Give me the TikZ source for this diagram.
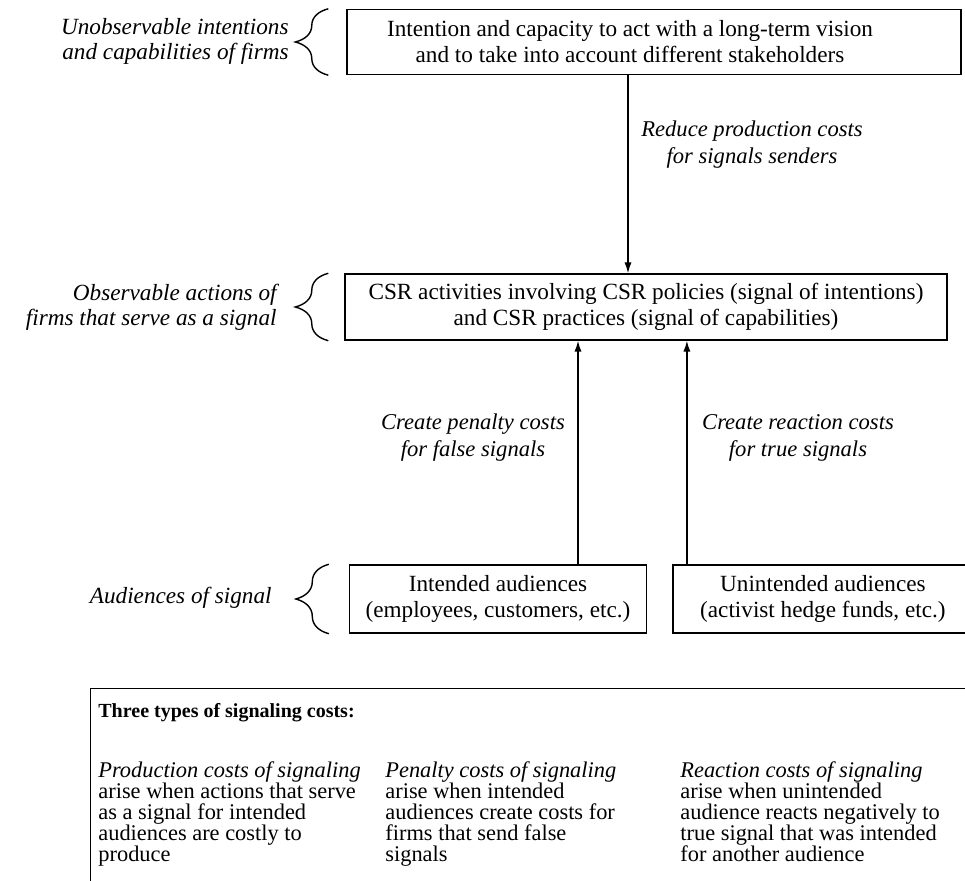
\documentclass[tikz,border=0pt]{standalone}
\usepackage{fontspec}
\setmainfont{Liberation Serif}
\usetikzlibrary{arrows.meta}
\usetikzlibrary{positioning}
\usetikzlibrary{decorations.pathreplacing}
\tikzset{>={Latex[length=5.5pt, width=3.6pt]}}

\begin{document}
\begin{tikzpicture}[x=0.5pt, y=-0.5pt]
                % frame of the page, the cost panel runs off the right and bottom
                \useasboundingbox (0,0) rectangle (965,881);
                \clip (0,0) rectangle (965,881);
                \tikzstyle{every node}=[font=\fontsize{11.6}{13}\selectfont]
                \tikzstyle{level box}=[draw=black, line width=0.7pt, align=center, inner sep=0pt]
                \tikzstyle{side label}=[align=right, anchor=east, inner sep=0pt, font=\fontsize{11.6}{12.5}\selectfont\itshape]
                \tikzstyle{arrow label}=[align=center, font=\fontsize{11.3}{13.5}\selectfont\itshape]
                \tikzstyle{level brace}=[draw, decorate, decoration={brace, amplitude=16.5pt}, line width=0.7pt]
                \tikzstyle{cost text}=[anchor=north west, align=left, inner sep=0pt, font=\fontsize{11.2}{10.6}\selectfont]
                \tikzstyle{every edge}=[black, ->, line width=0.7pt, draw]

                \node[level box, minimum width=307pt, minimum height=32.5pt] (vision) at (654,42) {};
                \node[align=center] (vision text) at ([xshift=-12pt]vision.center) {Intention and capacity to act with a long-term vision\\and to take into account different stakeholders};
                \node[level box, minimum width=301pt, minimum height=33pt] (csr) at (646,307) {CSR activities involving CSR policies (signal of intentions)\\and CSR practices (signal of capabilities)};
                \node[level box, minimum width=148.5pt, minimum height=34pt] (intended) at (498,599) {Intended audiences\\(employees, customers, etc.)};
                \node[level box, minimum width=150pt, minimum height=34pt, right=12.5pt of intended] (unintended) {Unintended audiences\\(activist hedge funds, etc.)};

                % braces and what each level stands for
                \draw[level brace] ([xshift=-9pt]vision.south west) -- ([xshift=-9pt]vision.north west);
                \draw[level brace] ([xshift=-8pt]csr.south west) -- ([xshift=-8pt]csr.north west);
                \draw[level brace] ([xshift=-10pt]intended.south west) -- ([xshift=-10pt]intended.north west);
                \node[side label] (unobservable) at (289,41) {Unobservable intentions\\and capabilities of firms};
                \node[side label] (observable) at (277,307) {Observable actions of\\firms that serve as a signal};
                \node[side label] (audiences) at (272,598) {Audiences of signal};

                % cost arrows
                \coordinate (reduce end) at ([xshift=-9pt]csr.north);
                \draw (vision.south -| reduce end) edge (reduce end);
                \coordinate (penalty start) at ([xshift=40pt]intended.north);
                \draw (penalty start) edge (penalty start |- csr.south);
                \coordinate (reaction start) at ([xshift=-68pt]unintended.north);
                \draw (reaction start) edge (reaction start |- csr.south);

                \node[arrow label] (reduce) at (752,145) {Reduce production costs\\for signals senders};
                \node[arrow label] (penalty) at (473,438) {Create penalty costs\\for false signals};
                \node[arrow label] (reaction) at (798,438) {Create reaction costs\\for true signals};

                % panel with the three cost types
                \node[draw, line width=0.7pt, minimum width=560pt, minimum height=140pt, anchor=north west, inner sep=0pt] (panel) at (90,688) {};
                \node[cost text, font=\fontsize{10}{10.5}\selectfont\bfseries] (title) at ([xshift=4pt, yshift=-7.5pt]panel.north west) {Three types of signaling costs:};
                \node[cost text] (production) at (98,761) {\textit{Production costs of signaling}\\arise when actions that serve\\as a signal for intended\\audiences are costly to\\produce};
                \node[cost text] (penaltycost) at (385,761) {\textit{Penalty costs of signaling}\\arise when intended\\audiences create costs for\\firms that send false\\signals};
                \node[cost text] (reactioncost) at (680,761) {\textit{Reaction costs of signaling}\\arise when unintended\\audience reacts negatively to\\true signal that was intended\\for another audience};
\end{tikzpicture}
\end{document}
